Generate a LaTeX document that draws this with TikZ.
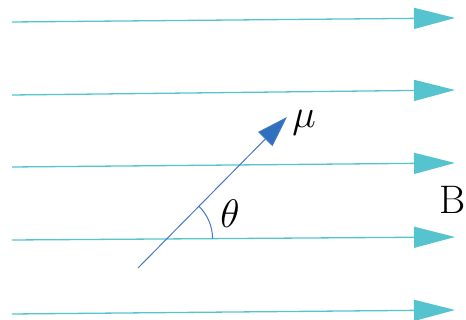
\documentclass[tikz,border=0pt]{standalone}
\usetikzlibrary{arrows.meta}
\definecolor{fieldcyan}{RGB}{86,196,207}
\definecolor{mublue}{RGB}{46,111,190}
\definecolor{mulight}{RGB}{70,120,195}
\begin{document}
\begin{tikzpicture}[x=1pt,y=1pt,
  fieldline/.style={draw=fieldcyan,line width=1.3pt,-{Triangle[length=41pt,width=21pt,fill=fieldcyan]}},
  lbl/.style={inner sep=0pt,font=\Huge,scale=1.6,transform shape}]
\useasboundingbox (0,0) rectangle (466,320);
\coordinate (a1) at (12,298); \coordinate (b1) at (455,302);
\coordinate (a2) at (12,225); \coordinate (b2) at (455,230);
\coordinate (a3) at (12,153); \coordinate (b3) at (455,157);
\coordinate (a4) at (12,80);  \coordinate (b4) at (455,83);
\coordinate (a5) at (12,6);   \coordinate (b5) at (455,10);
\foreach \i in {1,...,5} \draw[fieldline] (a\i) -- (b\i);
\coordinate (m0) at (138,52);
\coordinate (m1) at (287,203);
\draw[mulight,line width=1pt,-{Triangle[length=31pt,width=20pt,fill=mublue]}] (m0) -- (m1);
\coordinate (c) at (166.6,81);
\draw[mulight,line width=1pt] ([shift={(0.4:46)}]c) arc[start angle=0.4,end angle=45.4,radius=46];
\node[lbl] (theta) at (230,106) {$\theta$};
\node[lbl] (mu) at (304,197) {$\mu$};
\node[lbl,anchor=east] (B) at (465.5,120) {B};
\end{tikzpicture}
\end{document}
